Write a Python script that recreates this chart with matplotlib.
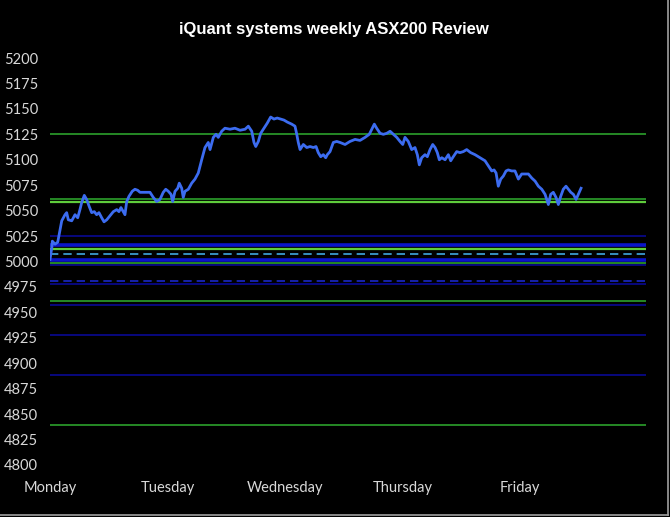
import matplotlib
matplotlib.use("Agg")
import matplotlib.pyplot as plt
from matplotlib.lines import Line2D

# time in trading days from Monday open, index level
days = [0.000, 0.017, 0.020, 0.043, 0.066, 0.085, 0.100, 0.128, 0.142, 0.156,
        0.185, 0.213, 0.236, 0.255, 0.270, 0.292, 0.312, 0.334, 0.355, 0.377,
        0.397, 0.417, 0.440, 0.460, 0.483, 0.511, 0.539, 0.568, 0.587, 0.604,
        0.624, 0.638, 0.653, 0.672, 0.700, 0.723, 0.746, 0.766, 0.794, 0.823,
        0.851, 0.879, 0.908, 0.936, 0.964, 0.985, 1.007, 1.030, 1.044, 1.064,
        1.087, 1.100, 1.121, 1.134, 1.149, 1.177, 1.206, 1.234, 1.262, 1.291,
        1.319, 1.347, 1.362, 1.390, 1.413, 1.432, 1.461, 1.489, 1.532, 1.574,
        1.617, 1.660, 1.688, 1.717, 1.736, 1.751, 1.773, 1.793, 1.821, 1.849,
        1.878, 1.906, 1.934, 1.963, 1.991, 2.020, 2.057, 2.085, 2.100, 2.113,
        2.128, 2.156, 2.185, 2.213, 2.241, 2.264, 2.283, 2.304, 2.326, 2.346,
        2.360, 2.383, 2.411, 2.440, 2.468, 2.511, 2.553, 2.596, 2.638, 2.681,
        2.717, 2.738, 2.760, 2.780, 2.809, 2.837, 2.866, 2.894, 2.922, 2.951,
        2.979, 3.002, 3.021, 3.049, 3.078, 3.106, 3.126, 3.143, 3.163, 3.191,
        3.211, 3.234, 3.257, 3.277, 3.296, 3.313, 3.334, 3.362, 3.390, 3.410,
        3.432, 3.461, 3.489, 3.517, 3.546, 3.580, 3.617, 3.660, 3.702, 3.730,
        3.759, 3.779, 3.796, 3.815, 3.836, 3.858, 3.881, 3.900, 3.929, 3.957,
        3.986, 4.014, 4.043, 4.071, 4.100, 4.128, 4.156, 4.185, 4.213, 4.241,
        4.261, 4.283, 4.306, 4.326, 4.346, 4.368, 4.391, 4.411, 4.432, 4.454,
        4.477, 4.496, 4.519]

price = [5002, 5015, 5020, 5017, 5019, 5031, 5040, 5046, 5048, 5041,
         5040, 5046, 5043, 5051, 5058, 5065, 5061, 5054, 5048, 5049,
         5046, 5048, 5043, 5039, 5041, 5045, 5049, 5051, 5049, 5053,
         5049, 5046, 5059, 5064, 5069, 5071, 5070, 5068, 5068, 5068,
         5068, 5063, 5059, 5061, 5068, 5071, 5069, 5066, 5059, 5069,
         5072, 5077, 5072, 5063, 5069, 5071, 5077, 5081, 5087, 5100,
         5112, 5117, 5110, 5122, 5125, 5122, 5128, 5131, 5130, 5131,
         5129, 5130, 5133, 5128, 5117, 5113, 5118, 5126, 5131, 5136,
         5142, 5140, 5141, 5140, 5139, 5137, 5135, 5133, 5125, 5117,
         5110, 5115, 5112, 5113, 5112, 5113, 5107, 5103, 5105, 5102,
         5105, 5108, 5117, 5118, 5117, 5115, 5118, 5120, 5119, 5122,
         5125, 5130, 5135, 5131, 5126, 5125, 5126, 5128, 5125, 5122,
         5118, 5115, 5122, 5118, 5110, 5112, 5105, 5095, 5102, 5105,
         5103, 5110, 5115, 5112, 5107, 5100, 5102, 5100, 5105, 5099,
         5103, 5108, 5107, 5108, 5110, 5107, 5105, 5102, 5099, 5094,
         5089, 5090, 5087, 5074, 5081, 5084, 5089, 5090, 5089, 5089,
         5081, 5086, 5086, 5086, 5082, 5079, 5074, 5071, 5066, 5056,
         5066, 5068, 5063, 5056, 5064, 5071, 5074, 5071, 5068, 5066,
         5061, 5066, 5072]

# support / resistance levels
green_levels = [5125.6, 5061.4, 4998.4, 4961.1, 4839.1]
lime_levels = [5058.7, 5011.8]
navy_levels = [5024.6, 4996.3, 4978.1, 4957.1, 4928.2, 4888.6]
thick_blue_levels = [5016.4, 5001.7]
dashed_blue_levels = [4980.7]
dashed_cyan_levels = [5007.3]

day_names = ["Monday", "Tuesday", "Wednesday", "Thursday", "Friday"]
y_ticks = list(range(4800, 5201, 25))

fig = plt.figure(figsize=(6.70, 5.17), dpi=100, facecolor="black")
ax = fig.add_axes([0.0746, 0.1006, 0.8896, 0.7872])
ax.set_facecolor("black")

for lv in navy_levels:
    ax.axhline(lv, color="#0a0aa0", lw=1.1)
for lv in thick_blue_levels:
    ax.axhline(lv, color="#0a14c8", lw=2.6)
for lv in dashed_blue_levels:
    ax.axhline(lv, color="#1a28c8", lw=1.2, ls=(0, (5, 3)))
for lv in green_levels:
    ax.axhline(lv, color="#2ca02c", lw=1.2)
for lv in lime_levels:
    ax.axhline(lv, color="#5fcc3c", lw=1.6)
for lv in dashed_cyan_levels:
    ax.axhline(lv, color="#40a8e0", lw=1.2, ls=(0, (5, 3)))

ax.plot(days, price, color="#3c6cf0", lw=2.0, zorder=5)

ax.set_xlim(0, 5.072)
ax.set_ylim(4800, 5200)
ax.set_xticks(range(len(day_names)))
ax.set_xticklabels(day_names)
ax.set_yticks(y_ticks)
for s in ax.spines.values():
    s.set_visible(False)
ax.tick_params(axis="both", length=0, colors="#d8d8d8", labelsize=10.5)
ax.tick_params(axis="y", pad=8.5)
ax.tick_params(axis="x", pad=11.5)
for lab in ax.get_xticklabels() + ax.get_yticklabels():
    lab.set_family(["Lato", "DejaVu Sans"])

fig.text(0.499, 0.942, "iQuant systems weekly ASX200 Review", color="white",
         ha="center", va="center", fontsize=12, fontweight="bold",
         family=["Liberation Sans", "DejaVu Sans"])

# light frame on the bottom and right edges
fig.add_artist(Line2D([0, 0.997], [0.003, 0.003], color="#a0a0a0", lw=1.2,
                      transform=fig.transFigure))
fig.add_artist(Line2D([0.997, 0.997], [0.003, 1], color="#a0a0a0", lw=1.2,
                      transform=fig.transFigure))

fig.savefig("out.png", dpi=100, facecolor="black")
